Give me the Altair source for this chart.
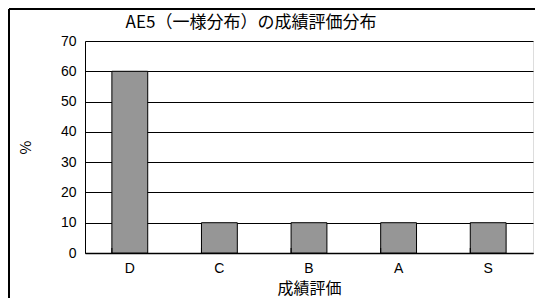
import altair as alt
import pandas as pd

categories = ["D", "C", "B", "A", "S"]
values = [60, 10, 10, 10, 10]
y_ticks = [0, 10, 20, 30, 40, 50, 60, 70]
title_text = "AE5（一様分布）の成績評価分布"

df = pd.DataFrame({"grade": categories, "pct": values})

FONT_LAT = "Liberation Sans"
FONT_JP = "Noto Sans CJK JP"

xscale = alt.Scale(domain=categories, paddingInner=0.6, paddingOuter=0.3)

base = alt.Chart(df)

bars = base.mark_bar(color="#969696", stroke="black", strokeWidth=1).encode(
    x=alt.X("grade:N", scale=xscale, sort=categories,
            axis=alt.Axis(title="成績評価", labelAngle=0, ticks=False,
                          domainColor="black", domainWidth=1.5,
                          labelFont=FONT_LAT, labelFontSize=14, labelColor="black",
                          labelPadding=8, titleFont=FONT_JP, titleFontSize=16,
                          titleFontWeight="normal", titleColor="black",
                          titleY=35, titleBaseline="middle")),
    y=alt.Y("pct:Q", scale=alt.Scale(domain=[0, 70], nice=False),
            axis=alt.Axis(title="%", values=y_ticks, ticks=False,
                          domainColor="black", grid=True, gridColor="black",
                          gridWidth=1, gridOpacity=1,
                          labelFont=FONT_LAT, labelFontSize=14, labelColor="black",
                          labelPadding=9, titleFont=FONT_JP, titleFontSize=15,
                          titleFontWeight="normal", titleColor="black",
                          titleX=-60, titleY=106, titleAngle=270,
                          titleAlign="center", titleBaseline="middle")),
)

ticks = base.mark_rule(color="black", strokeWidth=1).encode(
    x=alt.X("grade:N", scale=xscale, sort=categories, bandPosition=0),
    y=alt.value(212),
    y2=alt.value(207),
)

title_mark = alt.Chart(pd.DataFrame({"t": [title_text]})).mark_text(
    font=FONT_JP, fontSize=17, color="black", align="center", baseline="middle"
).encode(text="t:N", x=alt.value(166), y=alt.value(-18))

border_left = base.mark_rule(color="black", strokeWidth=1.5).encode(
    x=alt.value(-76), y=alt.value(-32), y2=alt.value(300)
)
border_top = base.mark_rule(color="black", strokeWidth=1.5).encode(
    x=alt.value(-76), x2=alt.value(460), y=alt.value(-32)
)

chart = alt.layer(bars, ticks, title_mark, border_left, border_top).properties(
    width=448,
    height=212,
    autosize=alt.AutoSizeParams(type="none"),
    padding={"left": 77, "top": 33, "right": 2, "bottom": 45},
).configure_view(stroke="black", strokeWidth=1.5).configure(background="white")

chart.save("out.html", embed_options={"renderer": "svg", "actions": False})
